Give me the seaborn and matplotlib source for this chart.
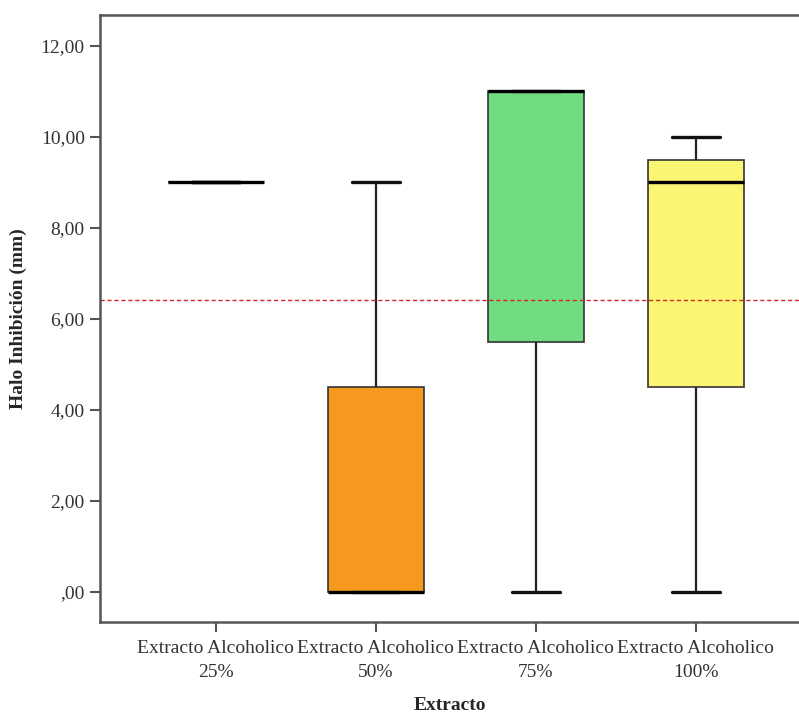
import matplotlib
matplotlib.use("Agg")
import matplotlib.pyplot as plt
import seaborn as sns
import pandas as pd

# ---- data ----
categories = ["Extracto Alcoholico\n25%", "Extracto Alcoholico\n50%",
              "Extracto Alcoholico\n75%", "Extracto Alcoholico\n100%"]
halo_25 = [9, 9, 9]
halo_50 = [0, 0, 9]
halo_75 = [0, 11, 11]
halo_100 = [0, 9, 10]
box_colors = ["#5B7FC7", "#F7991F", "#71DD83", "#FAF673"]
ref_line = 6.42
yticks = [0, 2, 4, 6, 8, 10, 12]
ytick_labels = [",00", "2,00", "4,00", "6,00", "8,00", "10,00", "12,00"]

groups = [halo_25, halo_50, halo_75, halo_100]
df = pd.DataFrame({
    "Extracto": [c for c, g in zip(categories, groups) for _ in g],
    "Halo": [v for g in groups for v in g],
})

sns.set_theme(style="white")
plt.rcParams["font.family"] = ["Liberation Serif", "DejaVu Serif"]

W, H = 799, 716
fig = plt.figure(figsize=(W / 100, H / 100), dpi=100)
ax = fig.add_axes([100 / W, (H - 622) / H, 699 / W, (622 - 15) / H])

sns.boxplot(
    data=df, x="Extracto", y="Halo", hue="Extracto", order=categories,
    hue_order=categories, palette=box_colors, saturation=1, width=0.6,
    linecolor="#333333", linewidth=1.2, legend=False, ax=ax,
    medianprops=dict(color="black", linewidth=2.4),
    capprops=dict(color="#111111", linewidth=2.4),
    whiskerprops=dict(color="#222222", linewidth=1.6),
    boxprops=dict(edgecolor="#333333", linewidth=1.2),
)

ax.axhline(ref_line, color="#D62728", linestyle=(0, (3, 2)), linewidth=1.0)

ax.set_xlim(-0.722, 3.646)
ax.set_ylim(-0.66, 12.68)
ax.set_yticks(yticks)
ax.set_yticklabels(ytick_labels)
ax.set_xticks(range(len(categories)))
ax.set_xticklabels(categories, linespacing=1.5)

for s in ["left", "bottom", "top"]:
    ax.spines[s].set_color("#555555")
    ax.spines[s].set_linewidth(1.8)
ax.spines["right"].set_visible(False)

ax.tick_params(axis="both", direction="out", length=7, width=1.5,
               color="#555555", labelcolor="#333333", labelsize=14,
               bottom=True, left=True)
ax.tick_params(axis="x", pad=6)
ax.tick_params(axis="y", pad=4)

ax.set_xlabel("Extracto", fontsize=14, fontweight="bold", labelpad=12)
ax.set_ylabel("Halo Inhibición (mm)", fontsize=14, fontweight="bold", labelpad=10)

fig.savefig("out.png", dpi=100)
